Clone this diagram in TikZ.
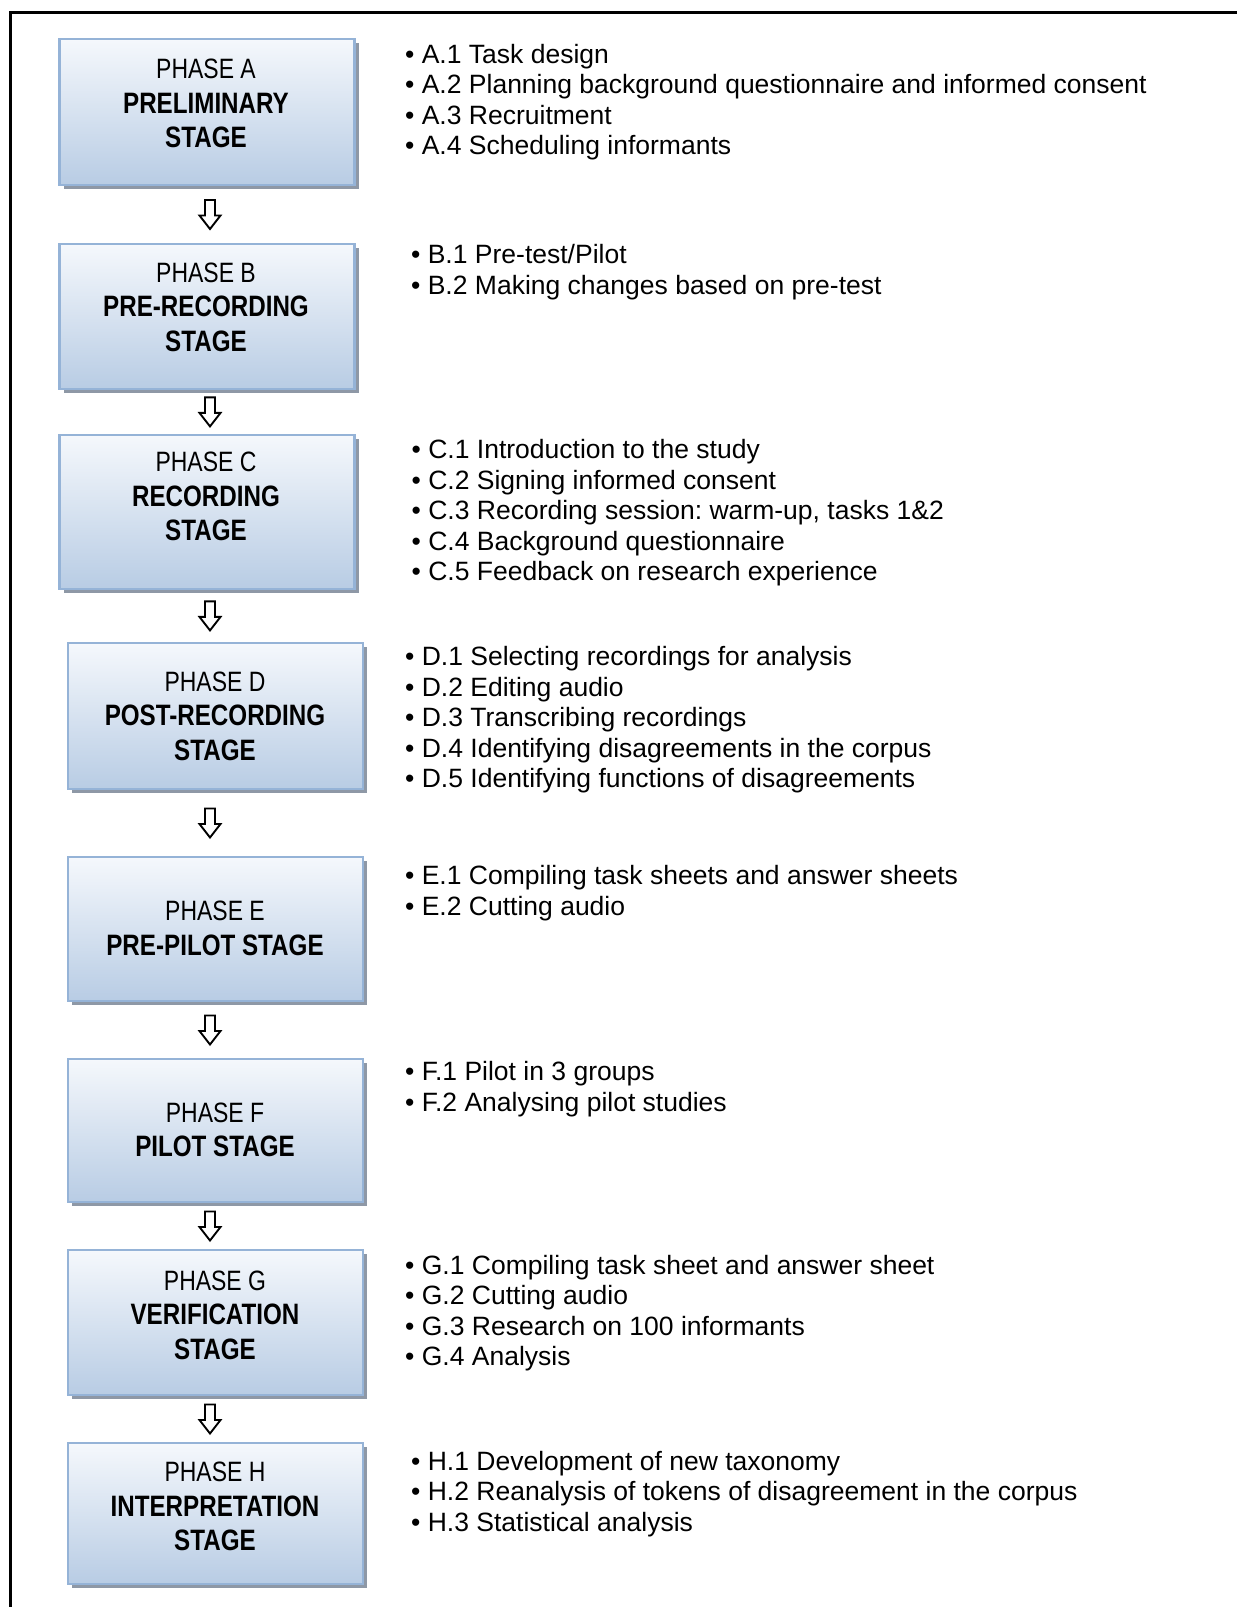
\documentclass[tikz,border=0pt]{standalone}
\usepackage{fontspec}
\setmainfont{Liberation Sans}
\newfontfamily\narrowfont[FakeStretch=0.82]{Liberation Sans}
\usetikzlibrary{shadows,calc}
\definecolor{boxtop}{HTML}{F5F8FC}
\definecolor{boxbot}{HTML}{B8CCE4}
\definecolor{boxline}{HTML}{95B3D7}
\definecolor{shadowgray}{HTML}{8E98A6}
\newcommand\bst[1]{{\fontsize{29.5}{34.5}\selectfont\bfseries #1}}
\frenchspacing
\begin{document}
\begin{tikzpicture}[x=1pt,y=-1pt,
 phasebox/.style={rectangle, draw=boxline, line width=2.5pt, top color=boxtop, bottom color=boxbot,
   minimum width=295pt, inner sep=0pt,
   drop shadow={shadow xshift=4pt, shadow yshift=-4pt, fill=shadowgray, opacity=1}},
 boxtext/.style={align=center, inner sep=0pt, font=\narrowfont\fontsize{28}{34.5}\selectfont},
 listtext/.style={align=left, anchor=north west, inner sep=0pt, font=\fontsize{26.5}{30.4}\selectfont},
 downarr/.pic={\draw[line width=1.9pt, fill=white, line join=miter]
   (-5,-14.5) -- (5,-14.5) -- (5,1) -- (10.5,1) -- (0,14.5) -- (-10.5,1) -- (-5,1) -- cycle;}
]
\useasboundingbox (0,0) rectangle (1237,1607);
\fill[white] (0,0) rectangle (1237,1607);
% frame
\draw[line width=2.5pt] (10.5,1607) -- (10.5,12.5) -- (1237,12.5);

% boxes
\node[phasebox, minimum height=146pt] (bA) at (207,112) {};
\node[phasebox, minimum height=145pt] (bB) at (207,316.5) {};
\node[phasebox, minimum height=154pt] (bC) at (207,511.8) {};
\node[phasebox, minimum height=146pt] (bD) at (215.5,716) {};
\node[phasebox, minimum height=144pt] (bE) at (215.5,929) {};
\node[phasebox, minimum height=143pt] (bF) at (215.5,1130.5) {};
\node[phasebox, minimum height=145pt] (bG) at (215.5,1322.5) {};
\node[phasebox, minimum height=141pt] (bH) at (215.5,1513.5) {};

% box texts
\node[boxtext] (tA) at (206,103.6) {PHASE A\\ \bst{PRELIMINARY}\\ \bst{STAGE}};
\node[boxtext] (tB) at (206,307.1) {PHASE B\\ \bst{PRE-RECORDING}\\ \bst{STAGE}};
\node[boxtext] (tC) at (206,496.8) {PHASE C\\ \bst{RECORDING}\\ \bst{STAGE}};
\node[boxtext] (tD) at (215,716.1) {PHASE D\\ \bst{POST-RECORDING}\\ \bst{STAGE}};
\node[boxtext] (tE) at (215,928.3) {PHASE E\\ \bst{PRE-PILOT STAGE}};
\node[boxtext] (tF) at (215,1129.8) {PHASE F\\ \bst{PILOT STAGE}};
\node[boxtext] (tG) at (215,1315.1) {PHASE G\\ \bst{VERIFICATION}\\ \bst{STAGE}};
\node[boxtext] (tH) at (215,1506.6) {PHASE H\\ \bst{INTERPRETATION}\\ \bst{STAGE}};

% arrows
\coordinate (ax) at (210,0);
\coordinate (mAB) at ($(bA.south)!0.5!(bB.north)$);
\coordinate (mBC) at ($(bB.south)!0.5!(bC.north)$);
\coordinate (mCD) at ($(bC.south)!0.5!(bD.north)$);
\coordinate (mDE) at ($(bD.south)!0.5!(bE.north)$);
\coordinate (mEF) at ($(bE.south)!0.5!(bF.north)$);
\coordinate (mFG) at ($(bF.south)!0.5!(bG.north)$);
\coordinate (mGH) at ($(bG.south)!0.5!(bH.north)$);
\pic at (ax |- mAB) {downarr};
\pic at (ax |- mBC) {downarr};
\pic at (ax |- mCD) {downarr};
\pic at (ax |- mDE) {downarr};
\pic at (ax |- mEF) {downarr};
\pic at (ax |- mFG) {downarr};
\pic at (ax |- mGH) {downarr};

% lists
\node[listtext] (lA) at (405,43.8) {\textbullet\ A.1 Task design\\
\textbullet\ A.2 Planning background questionnaire and informed consent\\
\textbullet\ A.3 Recruitment\\
\textbullet\ A.4 Scheduling informants};
\node[listtext] (lB) at (411,244.5) {\textbullet\ B.1 Pre-test/Pilot\\
\textbullet\ B.2 Making changes based on pre-test};
\node[listtext] (lC) at (411.5,439.5) {\textbullet\ C.1 Introduction to the study\\
\textbullet\ C.2 Signing informed consent\\
\textbullet\ C.3 Recording session: warm-up, tasks 1\&2\\
\textbullet\ C.4 Background questionnaire\\
\textbullet\ C.5 Feedback on research experience};
\node[listtext] (lD) at (405,646.5) {\textbullet\ D.1 Selecting recordings for analysis\\
\textbullet\ D.2 Editing audio\\
\textbullet\ D.3 Transcribing recordings\\
\textbullet\ D.4 Identifying disagreements in the corpus\\
\textbullet\ D.5 Identifying functions of disagreements};
\node[listtext] (lE) at (405,865.5) {\textbullet\ E.1 Compiling task sheets and answer sheets\\
\textbullet\ E.2 Cutting audio};
\node[listtext] (lF) at (405,1061.5) {\textbullet\ F.1 Pilot in 3 groups\\
\textbullet\ F.2 Analysing pilot studies};
\node[listtext] (lG) at (405,1255.1) {\textbullet\ G.1 Compiling task sheet and answer sheet\\
\textbullet\ G.2 Cutting audio\\
\textbullet\ G.3 Research on 100 informants\\
\textbullet\ G.4 Analysis};
\node[listtext] (lH) at (411,1450.9) {\textbullet\ H.1 Development of new taxonomy\\
\textbullet\ H.2 Reanalysis of tokens of disagreement in the corpus\\
\textbullet\ H.3 Statistical analysis};
\end{tikzpicture}
\end{document}
